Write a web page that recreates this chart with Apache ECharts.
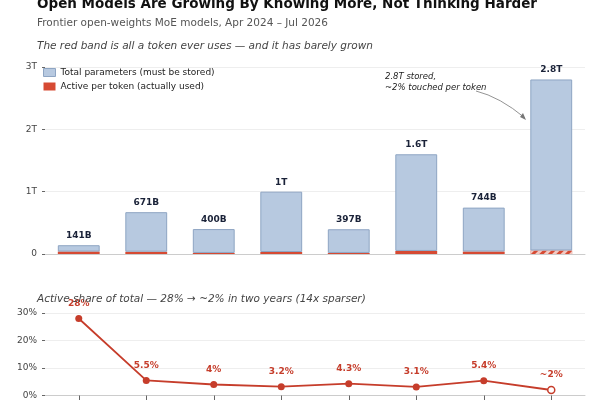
<!DOCTYPE html>
<html><head><meta charset="utf-8">
<script src="https://cdn.jsdelivr.net/npm/echarts@6/dist/echarts.min.js"></script>
<style>html,body{margin:0;padding:0;background:#fff}#c{width:600px;height:400px}</style>
</head><body><div id="c"></div>
<script>
const categories = ['M1','M2','M3','M4','M5','M6','M7','M8'];
const totalB = [141, 671, 400, 1000, 397, 1600, 744, 2800];
const activeB = [39, 37, 17, 32, 17, 49, 40, 56];
const totalLabels = ['141B','671B','400B','1T','397B','1.6T','744B','2.8T'];
const sharePct = [28, 5.5, 4, 3.2, 4.3, 3.1, 5.4, 2];
const shareLabels = ['28%','5.5%','4%','3.2%','4.3%','3.1%','5.4%','~2%'];
const yTicks = {0:'0',1000:'1T',2000:'2T',3000:'3T'};

const RED = '#c63d2b', BLUE = '#b7c9e0', BLUEB = '#8ea5c3';
const chart = echarts.init(document.getElementById('c'));
const font = 'DejaVu Sans';
chart.setOption({
  animation:false,
  textStyle:{fontFamily:font},
  title:[
    {text:'Open Models Are Growing By Knowing More, Not Thinking Harder',left:32,top:-8,textStyle:{fontSize:13.5,fontWeight:'bold',color:'#111',fontFamily:font}},
    {text:'Frontier open-weights MoE models, Apr 2024 – Jul 2026',left:32,top:13,textStyle:{fontSize:10.5,fontWeight:'normal',color:'#555',fontFamily:font}},
    {text:'The red band is all a token ever uses — and it has barely grown',left:32,top:36,textStyle:{fontSize:10.5,fontWeight:'normal',fontStyle:'italic',color:'#444',fontFamily:font}},
    {text:'Active share of total — 28% → ~2% in two years (14x sparser)',left:32,top:289,textStyle:{fontSize:10.5,fontWeight:'normal',fontStyle:'italic',color:'#444',fontFamily:font}}
  ],
  legend:{left:38,top:63,orient:'vertical',itemWidth:12,itemHeight:8,itemGap:5,icon:'rect',
    textStyle:{fontSize:9,color:'#222'},
    data:[{name:'Total parameters (must be stored)',itemStyle:{color:BLUE,borderColor:BLUEB,borderWidth:1}},
          {name:'Active per token (actually used)',itemStyle:{color:'#d64a33'}}]},
  grid:[{left:45,right:15,top:67,height:187},{left:45,right:15,top:313,bottom:2}],
  xAxis:[
    {gridIndex:0,type:'category',data:categories,axisLabel:{show:false},axisTick:{show:false},axisLine:{lineStyle:{color:'#ccc'}}},
    {gridIndex:1,type:'category',data:categories,axisLabel:{show:false},axisTick:{show:true,alignWithLabel:true,lineStyle:{color:'#666'}},axisLine:{lineStyle:{color:'#ccc'}}}
  ],
  yAxis:[
    {gridIndex:0,min:0,max:3000,interval:1000,axisLabel:{fontSize:9,color:'#444',formatter:v=>yTicks[v]},axisTick:{show:true,length:3,lineStyle:{color:'#666'}},axisLine:{show:false},splitLine:{lineStyle:{color:'#eee'}}},
    {gridIndex:1,min:0,max:30,interval:10,axisLabel:{fontSize:9,color:'#444',formatter:'{value}%'},axisTick:{show:true,length:3,lineStyle:{color:'#666'}},axisLine:{show:false},splitLine:{lineStyle:{color:'#eee'}}}
  ],
  series:[
    {name:'Active per token (actually used)',type:'bar',stack:'a',xAxisIndex:0,yAxisIndex:0,barWidth:'62%',
     data:activeB.map((v,i)=>({value:v,itemStyle:i===7?{color:'#d64a33',decal:{symbol:'rect',dashArrayX:[1,0],dashArrayY:[3,3],rotation:-Math.PI/4,color:'rgba(255,255,255,0.7)'}}:{color:'#d64a33'}}))},
    {name:'Total parameters (must be stored)',type:'bar',stack:'a',xAxisIndex:0,yAxisIndex:0,barWidth:'62%',
     itemStyle:{color:BLUE,borderColor:BLUEB,borderWidth:1},
     data:totalB.map((v,i)=>v-activeB[i]),
     label:{show:true,position:'top',fontSize:9,fontWeight:'bold',color:'#1a2238',formatter:p=>totalLabels[p.dataIndex],distance:5}},
    {type:'line',xAxisIndex:1,yAxisIndex:1,data:sharePct.map((v,i)=>i===7?{value:v,itemStyle:{color:'#fff',borderColor:RED,borderWidth:1.5}}:v),
     symbol:'circle',symbolSize:7,lineStyle:{color:RED,width:1.8},itemStyle:{color:RED},
     label:{show:true,position:'top',distance:7,fontSize:9,fontWeight:'bold',color:RED,formatter:p=>shareLabels[p.dataIndex]}}
  ],
  graphic:[
    {type:'text',left:385,top:71,style:{text:'2.8T stored,\n~2% touched per token',font:'italic 8.5px DejaVu Sans',fill:'#222',lineHeight:11}},
    {type:'bezierCurve',shape:{x1:476,y1:91,cpx1:500,cpy1:97,x2:525,y2:118},style:{stroke:'#777',lineWidth:0.8,fill:'none'}},
    {type:'polygon',shape:{points:[[526,120],[520,117],[523,113]]},style:{fill:'#777'}}
  ]
});
</script></body></html>
